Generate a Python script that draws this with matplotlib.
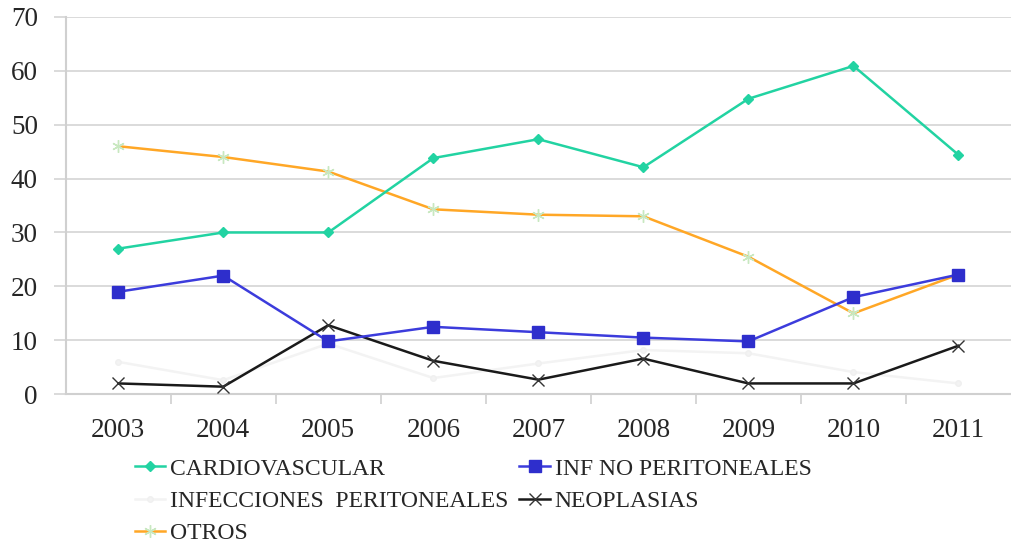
import matplotlib.pyplot as plt
import numpy as np

years = ["2003", "2004", "2005", "2006", "2007", "2008", "2009", "2010", "2011"]
cardiovascular = [27.0, 30.0, 30.0, 43.8, 47.3, 42.1, 54.8, 60.9, 44.4]
inf_no_peritoneales = [19.0, 22.0, 9.8, 12.5, 11.5, 10.5, 9.8, 18.0, 22.2]
infecciones_peritoneales = [6.0, 2.6, 9.4, 3.0, 5.7, 8.2, 7.6, 4.1, 2.0]
neoplasias = [2.0, 1.4, 12.8, 6.2, 2.7, 6.6, 2.0, 2.0, 9.0]
otros = [46.0, 44.0, 41.3, 34.3, 33.3, 33.0, 25.5, 15.0, 22.2]

plt.rcParams["font.family"] = ["Liberation Serif", "DejaVu Serif"]

fig = plt.figure(figsize=(10.11, 5.43), dpi=100, facecolor="white")
ax = fig.add_axes([0.065, 0.274, 0.935, 0.695])

x = np.arange(len(years))
l_card, = ax.plot(x, cardiovascular, color="#22d3a2", linewidth=1.8, marker="D",
                  markersize=5.5, label="CARDIOVASCULAR", zorder=4)
l_inf, = ax.plot(x, inf_no_peritoneales, color="#3c3cdc", linewidth=1.8, marker="s",
                 markersize=8, markerfacecolor="#2e2ecc", markeredgecolor="#2e2ecc",
                 label="INF NO PERITONEALES", zorder=4)
l_per, = ax.plot(x, infecciones_peritoneales, color="#f3f3f3", linewidth=1.8, marker="o",
                 markersize=4, markerfacecolor="#f3f3f3", markeredgecolor="#f0f0f0",
                 label="INFECCIONES  PERITONEALES", zorder=2)
l_neo, = ax.plot(x, neoplasias, color="#1a1a1a", linewidth=1.8, marker="x",
                 markersize=8, markeredgecolor="#333333", markeredgewidth=1.0,
                 label="NEOPLASIAS", zorder=3)
l_otr, = ax.plot(x, otros, color="#ffa726", linewidth=1.8, marker=(6, 2, 0),
                 markersize=9, markeredgecolor="#c8e8c0", markeredgewidth=1.0,
                 label="OTROS", zorder=3)

ax.set_xlim(-0.5, 8.5)
ax.set_ylim(0, 70)
ax.set_yticks(range(0, 71, 10))
ax.set_xticks(x)
ax.set_xticklabels(years)
ax.set_xticks(np.arange(0.5, 8.5, 1), minor=True)
ax.grid(axis="y", color="#d4d4d4", linewidth=1.2)
ax.set_axisbelow(True)
for side in ("top", "right"):
    ax.spines[side].set_visible(False)
for side in ("left", "bottom"):
    ax.spines[side].set_color("#d0d0d0")
    ax.spines[side].set_linewidth(1.5)
ax.tick_params(axis="y", length=9, width=1.2, color="#d4d4d4", labelsize=19.5,
               labelcolor="#262626", pad=11)
ax.tick_params(axis="x", which="major", length=0, labelsize=19.5, labelcolor="#262626", pad=17)
ax.tick_params(axis="x", which="minor", length=7, width=1.2, color="#d0d0d0")

leg = fig.legend(handles=[l_card, l_per, l_otr, l_inf, l_neo], ncol=2,
                 loc="upper left", bbox_to_anchor=(0.1216, 0.178), frameon=False,
                 fontsize=17, handlelength=1.3, handletextpad=0.2,
                 columnspacing=0.46, labelspacing=0.45, borderpad=0,
                 labelcolor="#262626")

fig.savefig("out.png", dpi=100, facecolor="white")
